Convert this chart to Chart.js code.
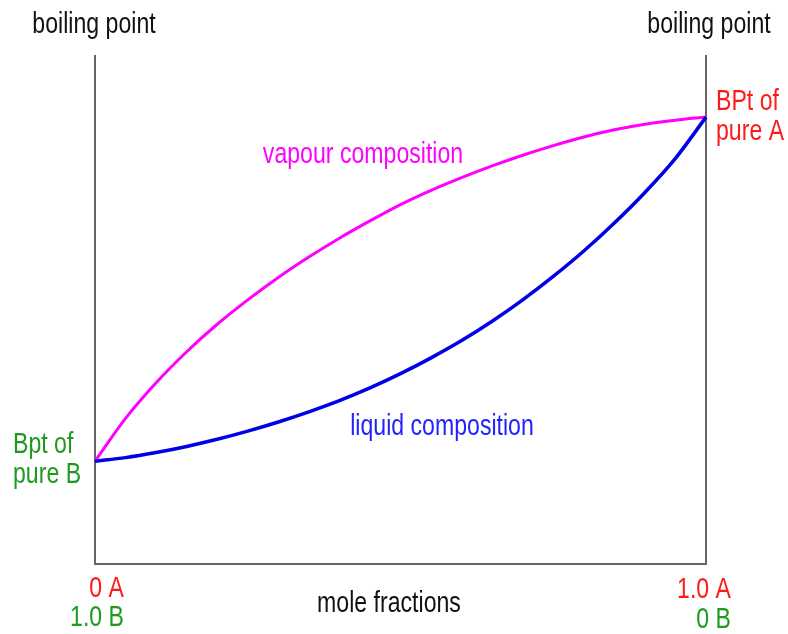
<!DOCTYPE html>
<html>
<head>
<meta charset="utf-8">
<title>Boiling point diagram</title>
<script src="https://cdn.jsdelivr.net/npm/chart.js@4.4.0/dist/chart.umd.min.js"></script>
<style>
  html, body { margin: 0; padding: 0; background: #fff; }
  #wrap { width: 788px; height: 634px; position: relative; }
</style>
</head>
<body>
<div id="wrap"><canvas id="bpChart" width="788" height="634"></canvas></div>
<script>
// mole fraction of A along the bottom
const moleFractionA = [0, 0.05, 0.1, 0.15, 0.2, 0.25, 0.3, 0.35, 0.4, 0.45, 0.5,
  0.55, 0.6, 0.65, 0.7, 0.75, 0.8, 0.85, 0.9, 0.95, 1];

// boiling point (arbitrary units, 0 = bottom axis, 100 = top of the axes)
const vapourCurve = [20.2, 28.6, 35.6, 41.7, 47.1, 51.9, 56.3, 60.3, 64.0, 67.4, 70.6,
  73.4, 75.9, 78.2, 80.3, 82.2, 83.9, 85.3, 86.4, 87.2, 87.8];
const liquidCurve = [20.2, 20.9, 21.9, 23.1, 24.5, 26.1, 27.9, 29.9, 32.1, 34.6, 37.4,
  40.5, 43.9, 47.7, 51.9, 56.5, 61.5, 67.0, 73.0, 79.7, 87.8];

const RED = '#ff1a1a';
const GREEN = '#1f9a1f';
const FONT = "'Liberation Sans', Arial, sans-serif";

function toPoints(ys) {
  return moleFractionA.map((x, i) => ({ x: x, y: ys[i] }));
}

// narrow text, like the original drawing
function txt(ctx, s, x, y, color, align) {
  const sx = 0.77;
  ctx.save();
  ctx.font = '30px ' + FONT;
  ctx.fillStyle = color;
  ctx.textBaseline = 'alphabetic';
  const w = ctx.measureText(s).width * sx;
  let left = x;
  if (align === 'center') left = x - w / 2;
  if (align === 'right') left = x - w;
  ctx.translate(left, y);
  ctx.scale(sx, 1);
  ctx.fillText(s, 0, 0);
  ctx.restore();
}

const frame = {
  id: 'frame',
  beforeDatasetsDraw(chart) {
    const { ctx, chartArea: a } = chart;
    ctx.save();
    ctx.strokeStyle = '#666';
    ctx.lineWidth = 2;
    ctx.beginPath();
    ctx.moveTo(a.left, a.top);
    ctx.lineTo(a.left, a.bottom);
    ctx.lineTo(a.right, a.bottom);
    ctx.lineTo(a.right, a.top);
    ctx.stroke();
    ctx.restore();
  },
  afterDraw(chart) {
    const { ctx, chartArea: a } = chart;
    // axis headings
    txt(ctx, 'boiling point', a.left - 1, 33, '#111', 'center');
    txt(ctx, 'boiling point', a.right + 3, 33, '#111', 'center');
    // curve names
    txt(ctx, 'vapour composition', 363, 163, '#ff00ff', 'center');
    txt(ctx, 'liquid composition', 442, 435, '#2222ff', 'center');
    // pure components
    txt(ctx, 'BPt of', a.right + 10, 110, RED, 'left');
    txt(ctx, 'pure A', a.right + 10, 140, RED, 'left');
    txt(ctx, 'Bpt of', 13, 453, GREEN, 'left');
    txt(ctx, 'pure B', 13, 483, GREEN, 'left');
    // bottom labels
    txt(ctx, '0 A', 124, 597, RED, 'right');
    txt(ctx, '1.0 B', 124, 626, GREEN, 'right');
    txt(ctx, '1.0 A', 731, 598, RED, 'right');
    txt(ctx, '0 B', 731, 628, GREEN, 'right');
    txt(ctx, 'mole fractions', 389, 612, '#111', 'center');
  }
};

new Chart(document.getElementById('bpChart'), {
  type: 'line',
  data: {
    datasets: [
      {
        label: 'liquid composition',
        data: toPoints(liquidCurve),
        borderColor: '#0000e6',
        borderWidth: 3.5,
        pointRadius: 0,
        cubicInterpolationMode: 'monotone',
        clip: false
      },
      {
        label: 'vapour composition',
        data: toPoints(vapourCurve),
        borderColor: '#ff00ff',
        borderWidth: 3,
        pointRadius: 0,
        cubicInterpolationMode: 'monotone',
        clip: false
      }
    ]
  },
  options: {
    responsive: false,
    animation: false,
    layout: { padding: { left: 95, right: 82, top: 55, bottom: 70 } },
    scales: {
      x: { type: 'linear', min: 0, max: 1, display: false },
      y: { min: 0, max: 100, display: false }
    },
    plugins: {
      legend: { display: false },
      tooltip: { enabled: false }
    }
  },
  plugins: [frame]
});
</script>
</body>
</html>
